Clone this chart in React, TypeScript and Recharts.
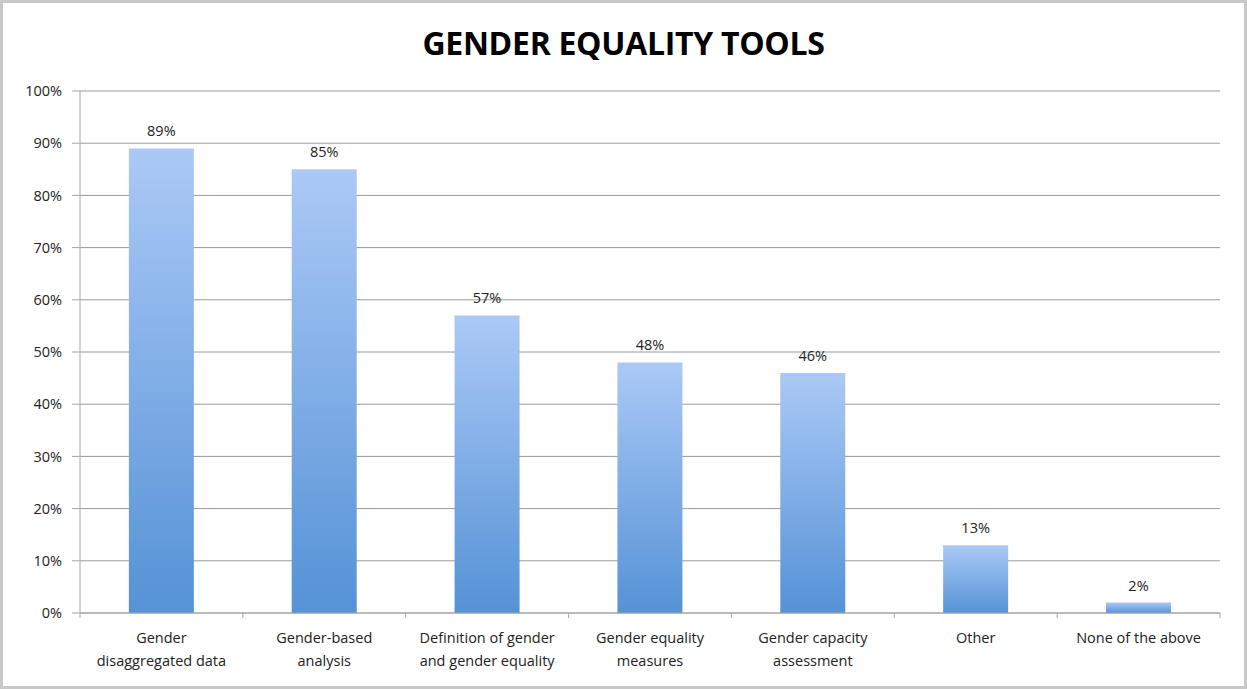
import { BarChart, Bar, XAxis, YAxis, CartesianGrid, LabelList } from 'recharts';

const categories = [
  'Gender disaggregated data',
  'Gender-based analysis',
  'Definition of gender and gender equality',
  'Gender equality measures',
  'Gender capacity assessment',
  'Other',
  'None of the above',
];
const tickLines = [
  ['Gender', 'disaggregated data'],
  ['Gender-based', 'analysis'],
  ['Definition of gender', 'and gender equality'],
  ['Gender equality', 'measures'],
  ['Gender capacity', 'assessment'],
  ['Other'],
  ['None of the above'],
];
const values = [89, 85, 57, 48, 46, 13, 2];
const yTicks = [0, 10, 20, 30, 40, 50, 60, 70, 80, 90, 100];

const data = categories.map((name, i) => ({ name, value: values[i], lines: tickLines[i] }));

const W = 1247;
const H = 689;
const FONT = '"Open Sans", sans-serif';
const plotLeft = 80;
const plotRight = 27;
const band = (W - plotLeft - plotRight) / categories.length;

function CategoryTick(props: any) {
  const { x, y, index } = props;
  const lines = tickLines[index] || [];
  return (
    <g>
      <line x1={x + band / 2} x2={x + band / 2} y1={y - 8} y2={y - 3} stroke="#a6a6a6" />
      {index === 0 && <line x1={x - band / 2} x2={x - band / 2} y1={y - 8} y2={y - 3} stroke="#a6a6a6" />}
      {lines.map((l, i) => (
        <text key={i} x={x} y={y + 22 + i * 23} textAnchor="middle" fontSize={14.5} fill="#222" fontFamily={FONT}>
          {l}
        </text>
      ))}
    </g>
  );
}

export default function App() {
  return (
    <div
      style={{
        position: 'absolute',
        left: 0,
        top: 0,
        width: W - 6,
        height: H - 6,
        border: '3px solid #c8c8c8',
        background: '#fff',
      }}
    >
      <div
        style={{
          position: 'absolute',
          top: 18,
          width: '100%',
          textAlign: 'center',
          fontFamily: FONT,
          fontWeight: 700,
          fontSize: 32,
          color: '#000',
          letterSpacing: -0.3,
        }}
      >
        GENDER EQUALITY TOOLS
      </div>
      <BarChart
        width={W}
        height={H}
        data={data}
        margin={{ top: 91, right: plotRight, left: 0, bottom: 0 }}
        barCategoryGap="30%"
        style={{ position: 'absolute', left: -3, top: -3 }}
      >
        <defs>
          <linearGradient id="barFill" x1="0" y1="0" x2="0" y2="1">
            <stop offset="0%" stopColor="#abc9f6" />
            <stop offset="100%" stopColor="#5592d6" />
          </linearGradient>
        </defs>
        <CartesianGrid vertical={false} stroke="#9a9a9a" />
        <XAxis
          dataKey="name"
          height={76}
          interval={0}
          tickLine={false}
          axisLine={{ stroke: '#a6a6a6' }}
          tick={<CategoryTick />}
        />
        <YAxis
          width={plotLeft}
          domain={[0, 100]}
          ticks={yTicks}
          interval={0}
          tickFormatter={(v: number) => `${v}%`}
          tick={{ fontSize: 14.5, fill: '#222', fontFamily: FONT }}
          tickLine={{ stroke: '#a6a6a6' }}
          tickSize={8}
          tickMargin={10}
          axisLine={{ stroke: '#a6a6a6' }}
        />
        <Bar dataKey="value" fill="url(#barFill)" isAnimationActive={false} maxBarSize={66}>
          <LabelList
            dataKey="value"
            position="top"
            offset={12}
            formatter={(v: any) => `${v}%`}
            style={{ fontSize: 14.5, fill: '#222', fontFamily: FONT }}
          />
        </Bar>
      </BarChart>
    </div>
  );
}
